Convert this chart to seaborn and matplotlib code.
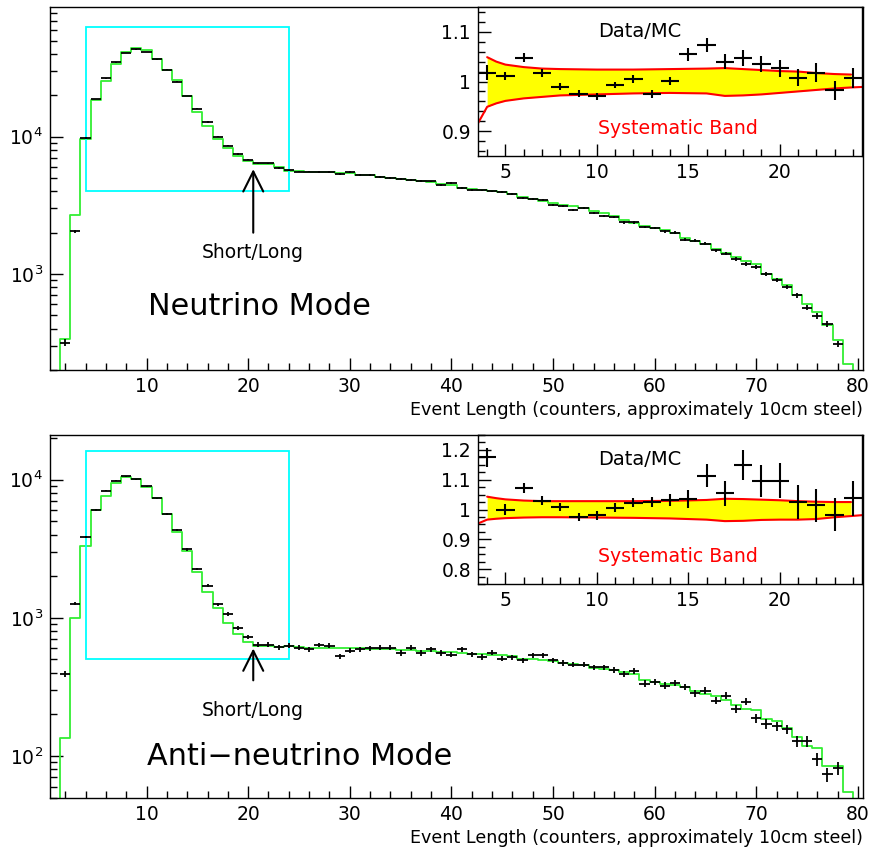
import numpy as np
import pandas as pd
import matplotlib
matplotlib.use("Agg")
import matplotlib.pyplot as plt
from matplotlib.patches import Rectangle
from matplotlib.ticker import MultipleLocator, FuncFormatter, LogLocator, NullFormatter
import seaborn as sns

sns.set_style("white")
plt.rcParams["font.family"] = ["DejaVu Sans"]
plt.rcParams["text.color"] = "black"
plt.rcParams["axes.labelcolor"] = "black"
plt.rcParams["xtick.color"] = "black"
plt.rcParams["ytick.color"] = "black"

nan = np.nan

# ---------------- data ----------------
bins = np.arange(1, 81)  # event length bins (counters)

nu_data = [nan, 316, 2040, 9800, 18800, 26600, 34700, 40800, 43200, 41300,
           36500, 30800, 25200, 19800, 16000, 12800, 10000, 8600, 7500, 6810,
           6400, 6400, 5900, 5680, 5570, 5570, 5520, 5520, 5370, 5520,
           5250, 5250, 5080, 5000, 4910, 4860, 4780, 4720, 4440, 4620,
           4230, 4110, 4060, 3990, 3930, 3840, 3600, 3520, 3440, 3200,
           3150, 2940, 3030, 2790, 2660, 2600, 2380, 2380, 2200, 2170,
           2050, 2000, 1780, 1750, 1660, 1490, 1410, 1290, 1180, 1130,
           995, 905, 810, 700, 570, 496, 432, 310, nan, nan]

nu_mc = [150, 338, 2680, 9630, 18580, 25380, 34090, 41250, 44300, 42580,
         36760, 30650, 25850, 19780, 15170, 11920, 9620, 8210, 7250, 6630,
         6350, 6290, 6010, 5640, 5580, 5560, 5520, 5490, 5420, 5400,
         5300, 5240, 5120, 5020, 4940, 4860, 4780, 4700, 4560, 4450,
         4250, 4130, 4060, 3990, 3930, 3840, 3620, 3530, 3420, 3280,
         3190, 3140, 3020, 2890, 2780, 2650, 2480, 2370, 2220, 2180,
         2080, 1990, 1830, 1750, 1660, 1530, 1420, 1330, 1240, 1180,
         1000, 920, 836, 708, 609, 526, 428, 333, 223, 120]

anu_data = [nan, 394, 1265, 3840, 6050, 8320, 9780, 10570, 10050, 8950,
            7320, 5660, 4330, 3120, 2250, 1710, 1250, 1060, 842, 728,
            640, 640, 612, 628, 606, 593, 636, 630, 527, 576,
            590, 600, 606, 606, 557, 606, 557, 590, 557, 542,
            590, 545, 521, 561, 507, 518, 493, 536, 536, 493,
            471, 459, 459, 438, 438, 417, 390, 410, 334, 343,
            323, 339, 316, 285, 298, 252, 274, 220, 248, 188,
            171, 164, 156, 128, 128, 95, 74, 82, nan, nan]

anu_mc = [30, 136, 1000, 3280, 6050, 7650, 9460, 10400, 10100, 8790,
          7300, 5620, 4190, 3030, 2160, 1530, 1170, 910, 770, 670,
          626, 630, 617, 623, 612, 606, 606, 600, 600, 600,
          600, 597, 594, 590, 586, 583, 580, 576, 570, 566,
          557, 551, 545, 539, 536, 527, 507, 507, 499, 488,
          471, 461, 454, 436, 429, 417, 405, 394, 357, 343,
          334, 324, 316, 298, 282, 270, 255, 236, 220, 216,
          186, 179, 160, 137, 119, 115, 85, 85, 55, 30]

# Data/MC ratio insets (bins 4..24)
ratio_bins = np.arange(4, 25)
nu_ratio = [1.018, 1.012, 1.048, 1.018, 0.989, 0.975, 0.970, 0.993, 1.005, 0.975,
            1.001, 1.055, 1.074, 1.040, 1.047, 1.035, 1.027, 1.008, 1.018, 0.982, 1.007]
nu_ratio_err = [0.015, 0.008, 0.009, 0.008, 0.007, 0.007, 0.007, 0.007, 0.008, 0.008,
                0.009, 0.013, 0.014, 0.015, 0.016, 0.016, 0.017, 0.018, 0.019, 0.019, 0.020]
anu_ratio = [1.175, 1.000, 1.073, 1.030, 1.008, 0.974, 0.980, 1.006, 1.023, 1.025,
             1.031, 1.034, 1.113, 1.054, 1.150, 1.096, 1.096, 1.025, 1.014, 0.983, 1.037]
anu_ratio_err = [0.032, 0.017, 0.017, 0.016, 0.014, 0.014, 0.014, 0.015, 0.016, 0.017,
                 0.020, 0.030, 0.039, 0.042, 0.051, 0.055, 0.059, 0.057, 0.055, 0.055, 0.059]

# Systematic band edges
band_x = [3.5, 4.0, 4.5, 5, 6, 7, 8, 10, 12, 14, 16, 17, 18, 19, 20, 21, 22, 23, 23.9, 24.5]
nu_band_hi = [nan, 1.049, 1.040, 1.034, 1.029, 1.026, 1.025, 1.024, 1.024, 1.025,
              1.026, 1.027, 1.025, 1.023, 1.021, 1.020, 1.017, 1.015, 1.014, nan]
nu_band_lo = [0.916, 0.949, 0.956, 0.961, 0.966, 0.969, 0.972, 0.974, 0.976, 0.977,
              0.976, 0.971, 0.972, 0.974, 0.977, 0.980, 0.983, 0.986, 0.988, 0.989]
anu_band_hi = [nan, 1.043, 1.038, 1.034, 1.030, 1.028, 1.028, 1.028, 1.028, 1.029,
               1.032, 1.036, 1.035, 1.033, 1.031, 1.028, 1.026, 1.025, 1.025, nan]
anu_band_lo = [0.953, 0.966, 0.969, 0.971, 0.973, 0.974, 0.974, 0.973, 0.972, 0.970,
               0.966, 0.961, 0.962, 0.965, 0.966, 0.966, 0.968, 0.974, 0.978, 0.981]

GREEN = "#33ee33"
XLABEL = "Event Length (counters, approximately 10cm steel)"

fig = plt.figure(figsize=(8.7, 8.49), dpi=100)


def style_ticks(ax):
    ax.tick_params(which="both", direction="in", bottom=True, left=True,
                   top=False, right=False, labelsize=13.5, width=1,
                   color="black", labelcolor="black")
    ax.tick_params(which="major", length=9, pad=5)
    ax.tick_params(which="minor", length=5)
    for s in ax.spines.values():
        s.set_color("black")
        s.set_linewidth(1)


def main_panel(rect, data, mc, ylim, box_y, arrow_y, text_y, label, label_pos):
    ax = fig.add_axes(rect)
    df = pd.DataFrame({"length": bins.astype(float), "mc": np.asarray(mc, float)})
    sns.histplot(data=df, x="length", weights="mc", binwidth=1.0,
                 binrange=(0.5, 80.5), element="step", fill=False,
                 color=GREEN, linewidth=1.3, ax=ax)
    d = np.asarray(data, dtype=float)
    ax.errorbar(bins, d, xerr=0.5, yerr=np.sqrt(d), fmt="none",
                ecolor="black", elinewidth=1.3, capsize=0, zorder=3)
    ax.set_yscale("log")
    ax.set_xlim(0.5, 80.5)
    ax.set_ylim(*ylim)
    ax.set_xlabel("")
    ax.set_ylabel("")
    ax.xaxis.set_major_locator(MultipleLocator(10))
    ax.xaxis.set_minor_locator(MultipleLocator(2))
    ax.yaxis.set_major_locator(LogLocator(base=10))
    ax.yaxis.set_minor_locator(LogLocator(base=10, subs=np.arange(2, 10)))
    ax.yaxis.set_minor_formatter(NullFormatter())
    style_ticks(ax)
    # zoom region box
    ax.add_patch(Rectangle((4, box_y[0]), 20, box_y[1] - box_y[0], fill=False,
                           edgecolor="cyan", linewidth=1.3, zorder=2))
    # short/long arrow
    ax.annotate("", xy=(20.5, arrow_y[1]), xytext=(20.5, arrow_y[0]),
                arrowprops=dict(arrowstyle="->", color="black", lw=1.5,
                                mutation_scale=36, shrinkA=0, shrinkB=0))
    ax.text(20.5, text_y, "Short/Long", ha="center", va="center",
            fontsize=13.5, color="black")
    ax.text(label_pos[0], label_pos[1], label, transform=ax.transAxes,
            ha="center", va="center", fontsize=21.8, color="black")
    ax.text(1.0, -0.11, XLABEL, transform=ax.transAxes, ha="right",
            va="center", fontsize=12.6, color="black")
    return ax


def inset(rect, ratio, err, lo, hi, ylim, minor):
    ax = fig.add_axes(rect, facecolor="white")
    ax.fill_between(band_x, lo, hi, color="#ffff00", linewidth=0, zorder=1)
    sns.lineplot(x=band_x, y=hi, color="red", linewidth=1.5, ax=ax,
                 estimator=None, zorder=2)
    sns.lineplot(x=band_x, y=lo, color="red", linewidth=1.5, ax=ax,
                 estimator=None, zorder=2)
    ax.errorbar(ratio_bins, ratio, xerr=0.5, yerr=err, fmt="none",
                ecolor="black", elinewidth=1.5, capsize=0, zorder=3)
    ax.set_xlim(3.5, 24.5)
    ax.set_ylim(*ylim)
    ax.set_xlabel("")
    ax.set_ylabel("")
    ax.xaxis.set_major_locator(MultipleLocator(5))
    ax.xaxis.set_minor_locator(MultipleLocator(1))
    ax.yaxis.set_major_locator(MultipleLocator(0.1))
    ax.yaxis.set_minor_locator(MultipleLocator(minor))
    ax.yaxis.set_major_formatter(FuncFormatter(lambda v, p: f"{v:g}"))
    style_ticks(ax)
    ax.text(0.3125, 0.835, "Data/MC", transform=ax.transAxes, ha="left",
            va="center", fontsize=14, color="black")
    ax.text(0.3125, 0.185, "Systematic Band", transform=ax.transAxes, ha="left",
            va="center", fontsize=13.6, color="red")
    return ax


W, H = 870.0, 849.0
main_panel([50 / W, 1 - 370 / H, 813 / W, 363 / H], nu_data, nu_mc,
           (200, 88000), (4000, 63000), (2000, 5800), 1430,
           "Neutrino Mode", (0.258, 0.174))
main_panel([50 / W, 1 - 797.7 / H, 813 / W, 362.7 / H], anu_data, anu_mc,
           (50, 21000), (500, 16000), (353, 600), 214,
           "Anti\u2212neutrino Mode", (0.307, 0.113))

inset([478 / W, 1 - 156 / H, 384 / W, 149 / H], nu_ratio, nu_ratio_err,
      nu_band_lo, nu_band_hi, (0.85, 1.15), 0.02)
inset([478 / W, 1 - 584 / H, 384 / W, 149 / H], anu_ratio, anu_ratio_err,
      anu_band_lo, anu_band_hi, (0.75, 1.25), 0.025)

fig.savefig("out.png", dpi=100)
